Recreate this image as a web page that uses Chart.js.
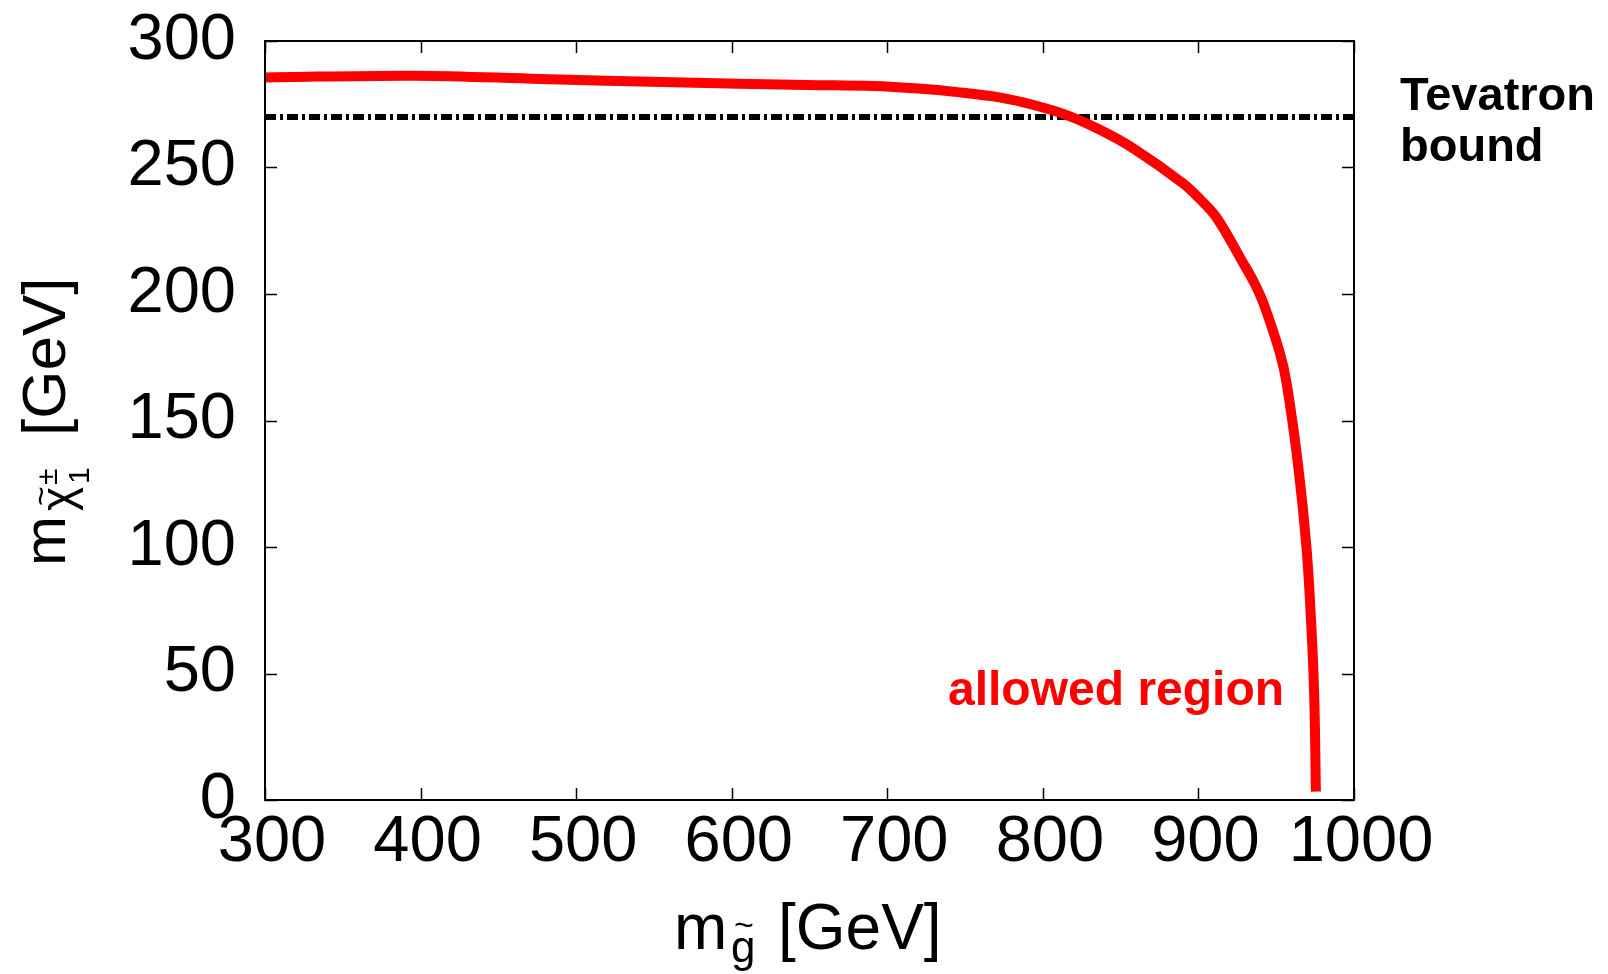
<!DOCTYPE html>
<html>
<head>
<meta charset="utf-8">
<script src="https://cdn.jsdelivr.net/npm/chart.js@4.4.0/dist/chart.umd.min.js"></script>
<style>
  html, body { margin: 0; padding: 0; background: #fff; }
</style>
</head>
<body>
<canvas id="chart" width="1608" height="974"></canvas>
<script>
// Boundary of the allowed region: gluino mass vs lightest chargino mass [GeV]
const gluinoMass = [300, 397, 477, 562, 648, 691, 720, 745, 772, 794, 815, 837, 858, 890, 901, 912, 929, 936, 942, 952.4, 956.7, 964.2, 969.6, 972.8, 974.5, 975.5];
const charginoMass = [285.6, 286.3, 285.0, 283.7, 282.6, 282.2, 281.2, 279.8, 277.7, 274.7, 270.8, 264.8, 257.6, 243.8, 237.5, 229.9, 212.0, 204.3, 196.0, 176.6, 164.7, 131.7, 98.8, 65.9, 39.5, 3.3];

// Tevatron lower bound on the chargino mass
const tevatronX = [300, 1000];
const tevatronY = [270, 270];

// axis ranges / tick steps
const xRange = [300, 1000];
const xStep = 100;
const yRange = [0, 300];
const yStep = 50;

const FONT = "'Liberation Sans', Arial, Helvetica, sans-serif";

// inward ticks on all four sides + closed frame (gnuplot style)
const framePlugin = {
  id: "frame",
  afterDatasetsDraw(chart) {
    const { ctx, chartArea: a, scales } = chart;
    const len = 12;
    ctx.save();
    ctx.strokeStyle = "#000";
    ctx.lineWidth = 1.5;
    ctx.beginPath();
    scales.x.ticks.forEach(t => {
      const px = Math.round(scales.x.getPixelForValue(t.value)) + 0.5;
      ctx.moveTo(px, a.bottom); ctx.lineTo(px, a.bottom - len);
      ctx.moveTo(px, a.top); ctx.lineTo(px, a.top + len);
    });
    scales.y.ticks.forEach(t => {
      const py = Math.round(scales.y.getPixelForValue(t.value)) + 0.5;
      ctx.moveTo(a.left, py); ctx.lineTo(a.left + len, py);
      ctx.moveTo(a.right, py); ctx.lineTo(a.right - len, py);
    });
    ctx.stroke();
    ctx.lineWidth = 2;
    ctx.strokeRect(a.left, a.top, a.right - a.left, a.bottom - a.top);
    ctx.restore();
  }
};

// axis titles with sub/superscripts and the two annotations
const textPlugin = {
  id: "labels",
  afterDraw(chart) {
    const ctx = chart.ctx;
    ctx.save();
    ctx.fillStyle = "#000";
    ctx.textAlign = "left";
    ctx.textBaseline = "alphabetic";

    // x title: m_g~ [GeV]
    ctx.font = `64px ${FONT}`;
    ctx.fillText("m", 674, 949);
    ctx.font = `44px ${FONT}`;
    ctx.fillText("g", 731, 962);
    ctx.font = `34px ${FONT}`;
    ctx.fillText("~", 734, 936);
    ctx.font = `64px ${FONT}`;
    ctx.fillText("[GeV]", 778, 949);

    // y title: m_chi~^±_1 [GeV], rotated
    ctx.translate(65, 564);
    ctx.rotate(-Math.PI / 2);
    ctx.font = `60px ${FONT}`;
    ctx.fillText("m", -2, 0);
    ctx.font = `46px ${FONT}`;
    ctx.fillText("χ", 53, 8);
    ctx.font = `34px ${FONT}`;
    ctx.fillText("~", 58, -13);
    ctx.font = `30px ${FONT}`;
    ctx.fillText("±", 79, -8);
    ctx.fillText("1", 80, 24);
    ctx.font = `62px ${FONT}`;
    ctx.fillText("[GeV]", 128, 0);
    ctx.setTransform(1, 0, 0, 1, 0, 0);

    // annotations
    ctx.font = `bold 47px ${FONT}`;
    ctx.fillText("Tevatron", 1400, 110);
    ctx.fillText("bound", 1400, 161);
    ctx.fillStyle = "#ff0000";
    ctx.font = `bold 48px ${FONT}`;
    ctx.fillText("allowed region", 948, 705);
    ctx.restore();
  }
};

new Chart(document.getElementById("chart").getContext("2d"), {
  type: "scatter",
  data: {
    datasets: [
      {
        label: "allowed region",
        data: gluinoMass.map((x, i) => ({ x, y: charginoMass[i] })),
        showLine: true,
        borderColor: "#ff0000",
        borderWidth: 10,
        pointRadius: 0,
        tension: 0.35,
        fill: false
      },
      {
        label: "Tevatron bound",
        data: tevatronX.map((x, i) => ({ x, y: tevatronY[i] })),
        showLine: true,
        borderColor: "#000",
        borderWidth: 6,
        borderDash: [11, 4, 3, 4],
        pointRadius: 0,
        fill: false
      }
    ]
  },
  options: {
    responsive: false,
    animation: false,
    devicePixelRatio: 1,
    layout: { padding: { left: 0, top: 41, right: 254, bottom: 0 } },
    scales: {
      x: {
        type: "linear",
        min: xRange[0],
        max: xRange[1],
        grid: { display: false, drawTicks: false },
        border: { display: false },
        ticks: {
          stepSize: xStep,
          autoSkip: false,
          color: "#000",
          padding: 4,
          labelOffset: 7,
          font: { family: FONT, size: 65 },
          maxRotation: 0,
          callback: v => String(v)
        },
        afterFit(scale) {
          scale.height = 174;
          scale.paddingLeft = 0;
          scale.paddingRight = 0;
        }
      },
      y: {
        type: "linear",
        min: yRange[0],
        max: yRange[1],
        grid: { display: false, drawTicks: false },
        border: { display: false },
        ticks: {
          stepSize: yStep,
          autoSkip: false,
          color: "#000",
          padding: 29,
          font: { family: FONT, size: 65 },
          callback: v => String(v)
        },
        afterFit(scale) {
          scale.width = 265;
          scale.paddingTop = 0;
          scale.paddingBottom = 0;
        }
      }
    },
    plugins: {
      legend: { display: false },
      tooltip: { enabled: false }
    }
  },
  plugins: [framePlugin, textPlugin]
});
</script>
</body>
</html>
